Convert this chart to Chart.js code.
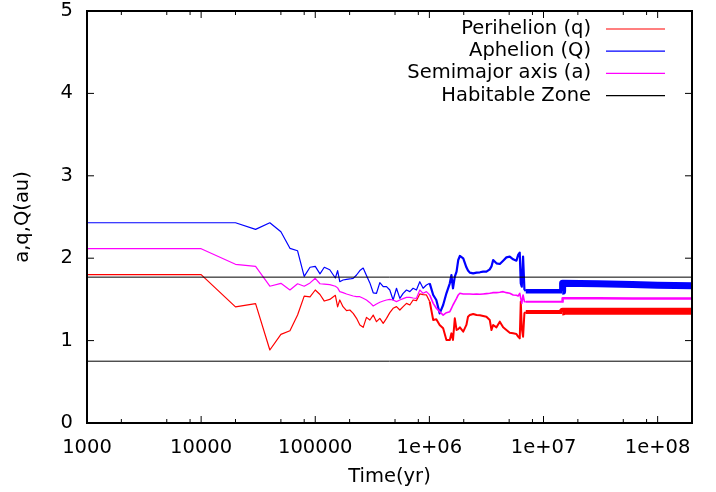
<!DOCTYPE html>
<html>
<head>
<meta charset="utf-8">
<script src="https://cdn.jsdelivr.net/npm/chart.js@4.4.0/dist/chart.umd.min.js"></script>
<style>
  html, body { margin: 0; padding: 0; background: #fff; }
  #wrap { width: 716px; height: 492px; position: relative; }
</style>
</head>
<body>
<div id="wrap"><canvas id="orbit"></canvas></div>
<script>
// Orbit evolution (time in yr, distances in au)
const years = [
  1000, 1e4, 2e4, 3e4, 4e4, 5e4, 6e4, 7e4, 8e4, 9e4, 1e5, 1.1e5, 1.2e5, 1.34e5, 1.5e5, 1.57e5,
  1.64e5, 1.75e5, 1.88e5, 2.01e5, 2.15e5, 2.30e5, 2.46e5, 2.63e5, 2.81e5, 3.01e5, 3.22e5,
  3.44e5, 3.68e5, 3.94e5, 4.21e5, 4.50e5, 4.81e5, 5.15e5, 5.51e5, 5.89e5, 6.30e5, 6.74e5,
  7.20e5, 7.70e5, 8.24e5, 8.81e5, 9.42e5, 1.007e6, 1.08e6, 1.15e6, 1.23e6, 1.32e6, 1.41e6,
  1.51e6, 1.56e6, 1.61e6, 1.67e6, 1.73e6, 1.79e6, 1.85e6, 1.98e6, 2.11e6, 2.18e6, 2.26e6,
  2.42e6, 2.59e6, 2.77e6, 2.96e6, 3.16e6, 3.38e6, 3.50e6, 3.62e6, 3.87e6, 4.14e6, 4.43e6,
  4.73e6, 5.06e6, 5.42e6, 5.79e6, 5.99e6, 6.19e6, 6.32e6, 6.45e6, 6.62e6, 6.80e6, 6.99e6,
  1.46e7, 1.47e7, 3e7, 6e7, 1e8, 2e8
];
const perihelion = [
  1.80, 1.80, 1.41, 1.448, 0.886, 1.076, 1.12, 1.31, 1.54, 1.53, 1.614, 1.56, 1.48, 1.50, 1.55, 1.41,
  1.493, 1.412, 1.363, 1.371, 1.331, 1.27, 1.19, 1.161, 1.282, 1.25, 1.31,
  1.23, 1.27, 1.21, 1.27, 1.339, 1.392, 1.412, 1.371, 1.412, 1.452, 1.432,
  1.493, 1.485, 1.566, 1.558, 1.554, 1.473, 1.25, 1.258, 1.19, 1.149, 1.007,
  1.007, 1.088, 1.007, 1.27, 1.129, 1.14, 1.161, 1.108, 1.19, 1.29, 1.31,
  1.323, 1.31, 1.307, 1.299, 1.29, 1.25, 1.129, 1.19, 1.161, 1.23, 1.161,
  1.129, 1.096, 1.088, 1.08, 1.048, 1.027, 1.473, 1.149, 1.048, 1.331, 1.347,
  1.347, 1.357, 1.357, 1.357, 1.356, 1.356
];
const aphelion = [
  2.43, 2.43, 2.43, 2.35, 2.43, 2.32, 2.12, 2.09, 1.78, 1.89, 1.90, 1.81, 1.89, 1.86, 1.76, 1.85,
  1.715, 1.735, 1.744, 1.748, 1.756, 1.796, 1.85, 1.88, 1.79, 1.70, 1.58,
  1.574, 1.703, 1.655, 1.655, 1.614, 1.493, 1.635, 1.513, 1.574, 1.614, 1.594,
  1.635, 1.614, 1.715, 1.635, 1.675, 1.695, 1.553, 1.493, 1.331, 1.432, 1.574,
  1.695, 1.796, 1.635, 1.776, 1.837, 1.978, 2.027, 1.998, 1.889, 1.85, 1.825,
  1.816, 1.825, 1.829, 1.837, 1.837, 1.865, 1.90, 1.978, 1.938, 1.93, 1.97,
  2.01, 2.019, 1.986, 1.97, 2.039, 2.067, 1.695, 1.655, 2.019, 1.622, 1.60,
  1.60, 1.695, 1.69, 1.68, 1.672, 1.665
];
const semimajor = [
  2.115, 2.115, 1.926, 1.90, 1.66, 1.695, 1.614, 1.69, 1.66, 1.70, 1.756, 1.69, 1.685, 1.68, 1.66, 1.64,
  1.594, 1.582, 1.566, 1.554, 1.541, 1.533, 1.533, 1.513, 1.493, 1.46, 1.42,
  1.444, 1.465, 1.481, 1.493, 1.501, 1.493, 1.473, 1.493, 1.509, 1.525, 1.525,
  1.517, 1.513, 1.614, 1.574, 1.594, 1.553, 1.452, 1.392, 1.351, 1.31, 1.339,
  1.351, 1.392, 1.432, 1.473, 1.513, 1.554, 1.574, 1.566, 1.566, 1.566, 1.566,
  1.562, 1.566, 1.562, 1.566, 1.57, 1.574, 1.578, 1.582, 1.582, 1.586, 1.594,
  1.582, 1.574, 1.554, 1.55, 1.541, 1.574, 1.513, 1.452, 1.554, 1.473, 1.472,
  1.472, 1.513, 1.513, 1.512, 1.512, 1.512
];

// habitable zone edges (au)
const hzInner = 0.75;
const hzOuter = 1.77;
const hzSpan = [1000, 2e8];

const xMajor = [1e3, 1e4, 1e5, 1e6, 1e7, 1e8];
const xTickLabels = ['1000', '10000', '100000', '1e+06', '1e+07', '1e+08'];
const xMinorSteps = [2, 5, 8];
const yTicks = [0, 1, 2, 3, 4, 5];

const FONT = '"DejaVu Sans", Verdana, sans-serif';
const FSIZE = 19.5;

const toPoints = vals => years.map((t, i) => ({ x: t, y: vals[i] }));

// output gets dense later on, so the trace reads as a heavier band
function bandWidth(thin, mid, band1, band2) {
    return ctx => {
        const t = ctx.p0.parsed.x;
        if (t < 1e6) return thin;
        if (t < 6.9e6) return mid;
        if (t < 1.46e7) return band1;
        return band2;
    };
}

// gnuplot style: inward ticks on all four sides, full frame, key top right
const gnuFrame = {
    id: 'gnuFrame',
    afterDraw(chart) {
        const { ctx, chartArea: a, scales: { x, y } } = chart;
        ctx.save();
        ctx.strokeStyle = '#000';
        ctx.lineWidth = 1;
        ctx.beginPath();
        xMajor.forEach(v => {
            const px = x.getPixelForValue(v);
            ctx.moveTo(px, a.bottom); ctx.lineTo(px, a.bottom - 7);
            ctx.moveTo(px, a.top); ctx.lineTo(px, a.top + 7);
            xMinorSteps.forEach(m => {
                if (v * m > x.max) return;
                const pm = x.getPixelForValue(v * m);
                ctx.moveTo(pm, a.bottom); ctx.lineTo(pm, a.bottom - 4);
                ctx.moveTo(pm, a.top); ctx.lineTo(pm, a.top + 4);
            });
        });
        yTicks.forEach(v => {
            const py = y.getPixelForValue(v);
            ctx.moveTo(a.left, py); ctx.lineTo(a.left + 7, py);
            ctx.moveTo(a.right, py); ctx.lineTo(a.right - 7, py);
        });
        ctx.stroke();

        ctx.lineWidth = 2;
        ctx.strokeRect(a.left, a.top, a.right - a.left, a.bottom - a.top);

        // key
        ctx.font = `${FSIZE}px ${FONT}`;
        ctx.textAlign = 'right';
        ctx.textBaseline = 'middle';
        chart.data.datasets.filter(d => d.inKey).forEach((d, i) => {
            const ky = a.top + 18 + i * 22.2;
            ctx.fillStyle = '#000';
            ctx.fillText(d.label, a.right - 101, ky);
            ctx.strokeStyle = d.borderColor;
            ctx.lineWidth = 1.2;
            ctx.beginPath();
            ctx.moveTo(a.right - 86, ky);
            ctx.lineTo(a.right - 27, ky);
            ctx.stroke();
        });
        ctx.restore();
    }
};

const font = { family: FONT, size: FSIZE };

new Chart(document.getElementById('orbit'), {
    type: 'line',
    data: {
        datasets: [{
            label: 'Perihelion (q)',
            data: toPoints(perihelion),
            borderColor: '#ff0000',
            order: 4,
            inKey: true,
            segment: { borderWidth: bandWidth(1.2, 2, 4, 7) },
        }, {
            label: 'Aphelion (Q)',
            data: toPoints(aphelion),
            borderColor: '#0000ff',
            order: 3,
            inKey: true,
            segment: { borderWidth: bandWidth(1.2, 2.2, 4.5, 7) },
        }, {
            label: 'Semimajor axis (a)',
            data: toPoints(semimajor),
            borderColor: '#ff00ff',
            order: 2,
            inKey: true,
            segment: { borderWidth: bandWidth(1.2, 1.6, 2, 2.5) },
        }, {
            label: 'Habitable Zone',
            data: hzSpan.map(t => ({ x: t, y: hzOuter })),
            borderColor: '#000',
            borderWidth: 1,
            order: 1,
            inKey: true,
        }, {
            label: 'Habitable Zone inner edge',
            data: hzSpan.map(t => ({ x: t, y: hzInner })),
            borderColor: '#000',
            borderWidth: 1,
            order: 1,
            inKey: false,
        }],
    },
    options: {
        responsive: true,
        maintainAspectRatio: false,
        animation: false,
        layout: { padding: { top: 0, right: 24, bottom: 0, left: 0 } },
        elements: {
            point: { radius: 0 },
            line: { tension: 0, borderWidth: 1.2, borderJoinStyle: 'round' },
        },
        plugins: { legend: { display: false }, tooltip: { enabled: false } },
        scales: {
            x: {
                type: 'logarithmic',
                min: 1000,
                max: 2e8,
                grid: { display: false, drawTicks: false },
                border: { display: false },
                afterBuildTicks: s => { s.ticks = xMajor.map(v => ({ value: v })); },
                afterFit: s => { s.height = 69; s.paddingLeft = 0; s.paddingRight = 0; },
                ticks: {
                    callback: (v, i) => xTickLabels[i],
                    autoSkip: false,
                    maxRotation: 0,
                    padding: 13,
                    color: '#000',
                    font,
                },
                title: { display: true, text: 'Time(yr)', color: '#000', font, padding: { top: 0, bottom: 3 } },
            },
            y: {
                min: 0,
                max: 5,
                grid: { display: false, drawTicks: false },
                border: { display: false },
                afterFit: s => { s.width = 87; s.paddingTop = 11; s.paddingBottom = 0; },
                ticks: { stepSize: 1, padding: 14, color: '#000', font },
                title: { display: true, text: 'a,q,Q(au)', color: '#000', font, padding: { top: 11, bottom: 0 } },
            },
        },
    },
    plugins: [gnuFrame],
});
</script>
</body>
</html>
